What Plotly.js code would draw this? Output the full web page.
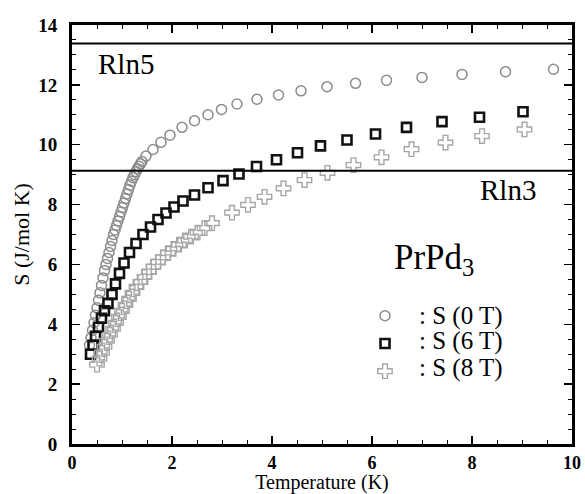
<!DOCTYPE html>
<html>
<head>
<meta charset="utf-8">
<script src="https://cdn.plot.ly/plotly-3.0.1.min.js"></script>
<style>html,body{margin:0;padding:0;background:#fff;}#chart{width:585px;height:494px;}</style>
</head>
<body>
<div id="chart"></div>
<script>
// S (0 T) - circles
var T0 = [0.35,0.38,0.41,0.44,0.47,0.50,0.53,0.56,0.59,0.62,0.65,0.68,0.71,0.74,0.77,0.80,0.83,0.86,0.89,0.92,0.95,0.98,1.01,1.04,1.07,1.10,1.13,1.16,1.19,1.22,1.25,1.28,1.31,1.34,1.37,1.40,
          1.48,1.62,1.78,1.96,2.20,2.45,2.72,2.99,3.30,3.70,4.13,4.58,5.10,5.67,6.29,7.00,7.80,8.67,9.63];
var S0 = [3.30,3.55,3.80,4.05,4.30,4.55,4.80,5.05,5.30,5.55,5.80,6.00,6.20,6.40,6.60,6.80,7.00,7.15,7.30,7.45,7.60,7.75,7.90,8.05,8.20,8.35,8.50,8.65,8.78,8.90,9.00,9.10,9.20,9.28,9.36,9.44,
          9.62,9.84,10.08,10.32,10.58,10.80,11.00,11.18,11.36,11.52,11.66,11.80,11.94,12.05,12.15,12.25,12.35,12.44,12.52];
// S (6 T) - squares
var T6 = [0.37,0.42,0.47,0.53,0.59,0.65,0.72,0.80,0.87,0.95,1.04,1.15,1.28,1.42,1.57,1.72,1.88,2.04,2.22,2.45,2.72,3.02,3.34,3.69,4.09,4.51,4.97,5.50,6.07,6.69,7.40,8.15,9.02];
var S6 = [3.00,3.30,3.60,3.90,4.20,4.45,4.70,5.00,5.35,5.70,6.05,6.40,6.70,7.00,7.25,7.50,7.72,7.92,8.12,8.32,8.56,8.80,9.02,9.27,9.50,9.73,9.96,10.16,10.36,10.58,10.77,10.92,11.10];
// S (8 T) - crosses
var T8 = [0.50,0.55,0.60,0.65,0.70,0.76,0.82,0.88,0.94,1.00,1.07,1.14,1.21,1.29,1.37,1.45,1.54,1.63,1.72,1.82,1.92,2.03,2.14,2.26,2.38,2.51,2.65,2.80,3.20,3.52,3.85,4.23,4.65,5.11,5.63,6.19,6.79,7.47,8.20,9.05];
var S8 = [2.65,2.85,3.05,3.25,3.45,3.65,3.85,4.05,4.25,4.45,4.65,4.85,5.05,5.25,5.42,5.58,5.76,5.93,6.08,6.24,6.38,6.52,6.66,6.80,6.93,7.06,7.21,7.38,7.73,7.99,8.26,8.54,8.82,9.06,9.32,9.58,9.85,10.07,10.29,10.51];

var seriesNames = [': S (0 T)', ': S (6 T)', ': S (8 T)'];
var R = 8.314;
var refLevels = [R*Math.log(5), R*Math.log(3)];
var refLabels = ['Rln5', 'Rln3'];
var xTickVals = [0,2,4,6,8,10];
var yTickVals = [0,2,4,6,8,10,12,14];

var serif = 'Liberation Serif';

var traces = [
  {x:T0, y:S0, type:'scatter', mode:'markers', name:'\u00a0',
   marker:{symbol:'circle-open', size:10, color:'#8c8c8c', line:{width:1.5, color:'#8c8c8c'}}},
  {x:T6, y:S6, type:'scatter', mode:'markers', name:'\u00a0',
   marker:{symbol:'square-open', size:9, color:'#111', line:{width:2.6, color:'#111'}}},
  {x:T8, y:S8, type:'scatter', mode:'markers', name:'\u00a0',
   marker:{symbol:'cross-open', size:12, color:'#a6a6a6', line:{width:1.4, color:'#a6a6a6'}}}
];

var axisCommon = {
  showline:true, linewidth:3, linecolor:'#000', mirror:'ticks',
  ticks:'inside', ticklen:8, tickwidth:1.5, tickcolor:'#000',
  showgrid:false, zeroline:false,
  tickfont:{family:serif, size:19, color:'#000', weight:'bold'},
  minor:{dtick:0.5, ticks:'inside', ticklen:4, tickwidth:1, tickcolor:'#000', showgrid:false}
};

var layout = {
  width:585, height:494,
  margin:{l:72, r:13, t:25, b:50},
  paper_bgcolor:'#fff', plot_bgcolor:'#fff',
  font:{family:serif, color:'#000'},
  xaxis: Object.assign({}, axisCommon, {
    range:[0,10], tickvals:xTickVals, ticktext:xTickVals.map(String), ticklabelstandoff:0,
    tickfont:{family:serif, size:18, color:'#000', weight:'bold'},
    title:{text:'Temperature (K)', font:{family:serif, size:20, color:'#000'}, standoff:1}
  }),
  yaxis: Object.assign({}, axisCommon, {
    range:[0,14], tickvals:yTickVals, ticktext:yTickVals.map(String), ticklabelstandoff:8,
    title:{text:'S (J/mol K)', font:{family:serif, size:22, color:'#000'}, standoff:3}
  }),
  showlegend:true,
  legend:{x:0.586, y:0.351, xanchor:'left', yanchor:'top', bgcolor:'rgba(0,0,0,0)',
          font:{family:serif, size:19, color:'#000'}, itemwidth:30},
  shapes: refLevels.map(function(v){
    return {type:'line', xref:'paper', yref:'y', x0:0, x1:1, y0:v, y1:v, line:{color:'#000', width:2}};
  }),
  annotations: [
    {x:1.08, y:12.7, xref:'x', yref:'y', text:refLabels[0], showarrow:false,
     font:{family:serif, size:29, color:'#000'}},
    {x:8.72, y:8.49, xref:'x', yref:'y', text:refLabels[1], showarrow:false,
     font:{family:serif, size:29, color:'#000'}},
    {x:6.4, y:6.15, xref:'x', yref:'y', xanchor:'left', text:'PrPd<sub>3</sub>', showarrow:false,
     font:{family:serif, size:35, color:'#000'}}
  ]
};
var legendTextY = [4.28, 3.44, 2.54];
seriesNames.forEach(function(n, i){
  layout.annotations.push({x:6.9, y:legendTextY[i], xref:'x', yref:'y', xanchor:'left', text:n,
    showarrow:false, font:{family:serif, size:25, color:'#000'}});
});

Plotly.newPlot('chart', traces, layout, {displayModeBar:false, staticPlot:true});
</script>
</body>
</html>
